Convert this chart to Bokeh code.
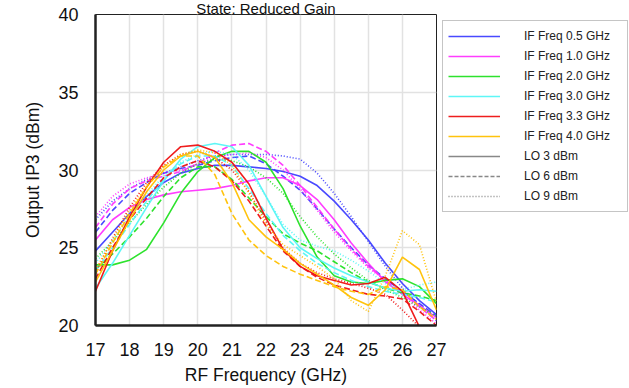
from bokeh.plotting import figure
from bokeh.models import Legend, LegendItem, Title, FixedTicker, LinearAxis, Grid
from bokeh.embed import file_html
from bokeh.resources import INLINE

# ---------------- data ----------------
rf_ghz = [17.0, 17.5, 18.0, 18.5, 19.0, 19.5, 20.0, 20.5, 21.0, 21.5, 22.0,
          22.5, 23.0, 23.5, 24.0, 24.5, 25.0, 25.5, 26.0, 26.5, 27.0]

if_labels = ["IF Freq 0.5 GHz", "IF Freq 1.0 GHz", "IF Freq 2.0 GHz",
             "IF Freq 3.0 GHz", "IF Freq 3.3 GHz", "IF Freq 4.0 GHz"]
lo_labels = ["LO 3 dBm", "LO 6 dBm", "LO 9 dBm"]

# IF 0.5 GHz
if05_lo3 = [24.8, 26.0, 27.2, 28.3, 29.2, 29.8, 30.1, 30.3, 30.3, 30.2, 30.1,
            29.9, 29.6, 29.0, 28.0, 26.8, 25.5, 24.0, 22.7, 21.6, 20.7]
if05_lo6 = [26.0, 27.4, 28.5, 29.2, 29.8, 30.1, 30.3, 30.6, 30.8, 30.9, 30.4,
            29.6, 28.7, 27.5, 26.2, 25.0, 23.9, 23.0, 22.2, 21.4, 20.6]
if05_lo9 = [26.8, 28.0, 28.8, 29.4, 29.8, 30.2, 30.6, 30.9, 31.0, 31.0, 31.0,
            30.9, 30.7, 29.8, 28.5, 27.0, 25.4, 23.8, 22.4, 21.3, 20.3]
# IF 1.0 GHz
if10_lo3 = [25.5, 26.8, 27.6, 28.1, 28.4, 28.6, 28.7, 28.8, 29.0, 29.3, 29.5,
            29.5, 29.0, 28.1, 26.8, 25.3, 24.0, 22.8, 22.0, 21.3, 20.5]
if10_lo6 = [26.3, 27.8, 28.8, 29.3, 29.6, 29.9, 30.4, 31.1, 31.6, 31.7, 31.2,
            30.3, 29.0, 27.6, 26.2, 24.9, 23.8, 22.9, 22.1, 21.2, 20.3]
if10_lo9 = [27.0, 28.3, 29.1, 29.5, 29.8, 30.0, 30.4, 30.8, 31.0, 31.1, 30.8,
            30.0, 28.8, 27.4, 26.0, 24.8, 23.7, 22.9, 22.0, 21.0, 20.1]
# IF 2.0 GHz
if20_lo3 = [23.9, 23.9, 24.2, 24.9, 26.6, 28.5, 29.9, 30.8, 31.2, 31.2, 30.5,
            28.8, 26.4, 24.4, 23.2, 22.8, 22.7, 22.9, 23.0, 22.5, 21.4]
if20_lo6 = [23.6, 24.6, 25.7, 26.9, 28.3, 29.5, 30.2, 30.2, 29.4, 28.2, 27.0,
            25.9, 25.3, 24.8, 24.1, 23.4, 22.8, 22.4, 22.1, 21.9, 21.6]
if20_lo9 = [24.3, 25.4, 26.6, 27.8, 28.9, 29.8, 30.4, 30.7, 30.6, 30.2, 29.5,
            28.5, 27.0, 25.7, 24.6, 23.7, 22.9, 22.3, 21.8, 21.2, 20.6]
# IF 3.0 GHz
if30_lo3 = [22.4, 24.0, 25.8, 27.6, 29.3, 30.7, 31.5, 31.7, 31.5, 30.3, 28.3,
            26.3, 25.0, 24.3, 23.7, 23.2, 22.8, 22.4, 22.2, 22.3, 22.2]
if30_lo6 = [23.5, 25.0, 26.5, 28.0, 29.4, 30.4, 30.9, 30.9, 30.3, 28.8, 27.2,
            25.8, 24.8, 24.0, 23.4, 22.9, 22.5, 22.2, 22.0, 21.8, 21.5]
if30_lo9 = [24.0, 25.5, 27.0, 28.4, 29.6, 30.5, 31.0, 31.2, 31.0, 30.0, 28.3,
            26.5, 25.5, 25.1, 24.8, 24.2, 23.5, 22.7, 22.3, 22.6, 22.8]
# IF 3.3 GHz
if33_lo3 = [22.2, 24.8, 27.0, 28.9, 30.5, 31.5, 31.6, 31.2, 30.5, 29.1, 26.9,
            24.9, 23.8, 23.2, 22.9, 22.6, 22.7, 23.1, 22.2, 19.9, 18.5]
if33_lo6 = [23.0, 25.0, 26.8, 28.2, 29.5, 30.2, 30.6, 30.2, 29.3, 28.0, 26.4,
            24.8, 23.8, 23.1, 22.6, 22.3, 22.0, 21.9, 21.7, 20.9, 20.0]
if33_lo9 = [23.4, 25.6, 27.6, 29.2, 30.3, 31.0, 31.2, 30.8, 30.0, 28.6, 26.7,
            25.0, 24.0, 23.4, 23.0, 22.7, 22.4, 22.0, 21.0, 19.9, 19.0]
# IF 4.0 GHz
if40_lo3 = [22.8, 24.8, 26.8, 28.6, 30.0, 30.9, 31.2, 30.8, 29.2, 26.8, 25.7,
            24.9, 24.0, 23.3, 22.6, 21.8, 21.3, 22.3, 24.4, 23.6, 21.0]
if40_lo6 = [23.3, 25.3, 27.2, 28.9, 30.2, 30.9, 30.9, 29.7, 27.2, 25.5, 24.5,
            23.8, 23.3, 22.9, 22.5, 22.2, 22.0, 22.5, 22.3, 21.2, 20.4]
if40_lo9 = [23.6, 25.5, 27.4, 29.0, 30.2, 31.0, 31.3, 31.1, 30.3, 28.5, 26.5,
            25.2, 24.5, 23.8, 23.0, 21.6, 20.9, 23.2, 26.1, 25.2, 21.5]

x_ticks = [17, 18, 19, 20, 21, 22, 23, 24, 25, 26, 27]
y_ticks = [20, 25, 30, 35, 40]

series = [
    [if05_lo3, if05_lo6, if05_lo9],
    [if10_lo3, if10_lo6, if10_lo9],
    [if20_lo3, if20_lo6, if20_lo9],
    [if30_lo3, if30_lo6, if30_lo9],
    [if33_lo3, if33_lo6, if33_lo9],
    [if40_lo3, if40_lo6, if40_lo9],
]

# ---------------- styles ----------------
colors = ["#3F3FFF", "#FF33FF", "#22E022", "#55F5F5", "#EE1111", "#FFC000"]
dashes = ["solid", "6 3", "1 2"]
FONT = "Liberation Sans"

p = figure(frame_width=341, frame_height=311, output_backend="svg",
           toolbar_location=None, x_range=(17, 27), y_range=(20, 40),
           min_border_left=95, min_border_right=0, min_border_top=0,
           min_border_bottom=63, x_axis_location=None, y_axis_location=None)
p.background_fill_color = "white"
p.border_fill_color = "white"
p.outline_line_color = "#222222"
p.outline_line_width = 1

title = Title(text="State: Reduced Gain", align="center", text_font=FONT,
              text_font_size="15px", text_font_style="normal",
              text_color="#111111", standoff=-5)
p.add_layout(title, "above")

xaxis = LinearAxis(ticker=FixedTicker(ticks=x_ticks))
yaxis = LinearAxis(ticker=FixedTicker(ticks=y_ticks))
for ax in (xaxis, yaxis):
    ax.major_tick_out = 0
    ax.major_tick_in = 0
    ax.minor_tick_out = 0
    ax.minor_tick_in = 0
    ax.axis_line_color = "#222222"
    ax.axis_line_width = 2.5
    ax.major_label_text_font = FONT
    ax.major_label_text_font_size = "18px"
    ax.major_label_text_color = "#111111"
    ax.axis_label_text_font = FONT
    ax.axis_label_text_font_size = "17.5px"
    ax.axis_label_text_font_style = "normal"
    ax.axis_label_text_color = "#111111"
    ax.major_label_standoff = 17
xaxis.axis_label = "RF Frequency (GHz)"
yaxis.axis_label = "Output IP3 (dBm)"
xaxis.axis_label_standoff = 6
yaxis.axis_label_standoff = 12
p.add_layout(xaxis, "below")
p.add_layout(yaxis, "left")

p.xgrid.visible = False
p.ygrid.visible = False
p.add_layout(Grid(dimension=0, ticker=xaxis.ticker, grid_line_color="#E2E2E2", grid_line_width=1.5))
p.add_layout(Grid(dimension=1, ticker=yaxis.ticker, grid_line_color="#E2E2E2", grid_line_width=1.5))

solid_renderers = []
for ci, group in enumerate(series):
    for li, ys in enumerate(group):
        r = p.line(rf_ghz, ys, line_color=colors[ci], line_width=1.6,
                   line_dash=dashes[li], line_alpha=0.95)
        if li == 0:
            solid_renderers.append(r)

# legend
items = []
for ci, lab in enumerate(if_labels):
    items.append(LegendItem(label=lab, renderers=[solid_renderers[ci]]))
lo_dash = ["solid", "4 2", "1 2"]
nan_y = [float("nan")] * 2
for li, lab in enumerate(lo_labels):
    r = p.line(rf_ghz[:2], nan_y, line_color="#888888", line_width=1.5,
               line_dash=lo_dash[li])
    items.append(LegendItem(label=lab, renderers=[r]))

legend = Legend(items=items, location="top_left")
legend.glyph_width = 52
legend.glyph_height = 20
legend.label_height = 20
legend.label_width = 98
legend.label_standoff = 24
legend.spacing = 0
legend.padding = 5
legend.margin = 6
legend.label_text_font = FONT
legend.label_text_font_size = "12px"
legend.label_text_color = "#222222"
legend.border_line_color = "#8C8C8C"
legend.border_line_width = 1
legend.background_fill_color = "white"
legend.background_fill_alpha = 1
p.add_layout(legend, "right")

open("out.html", "w").write(file_html(p, INLINE))
